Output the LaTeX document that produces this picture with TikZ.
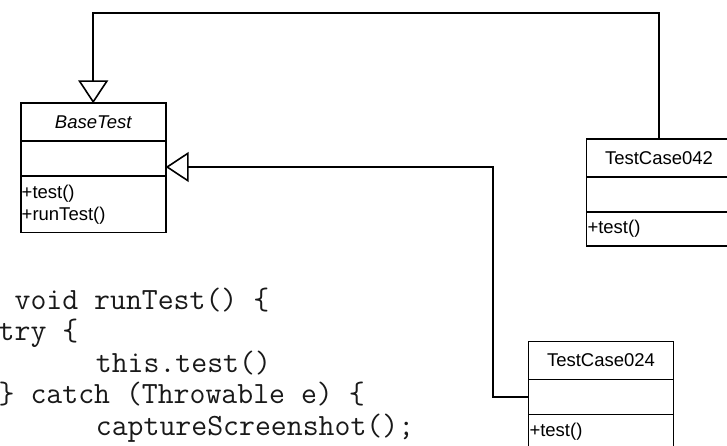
\documentclass[tikz,border=0pt]{standalone}
\usepackage{fontspec}
\newfontfamily\umlfont{Liberation Sans}
\usepackage{tikz}
\usetikzlibrary{arrows.meta,positioning}
\tikzset{
	classname/.style={
		draw, rectangle, minimum width=145pt, minimum height=38pt,
		inner sep=0pt, outer sep=0pt, line width=1.6pt, text=black,
		font=\umlfont\fontsize{18.5}{22}\selectfont
	},
	classattr/.style={classname, minimum height=35pt},
	classops/.style={
		classname, minimum height=34pt,
		align=left, text width=143pt, inner xsep=1pt
	},
	codeline/.style={
		anchor=base west, inner sep=0pt, text=black!90,
		font=\ttfamily\fontsize{30.9}{31}\selectfont
	},
	inherit_arrow/.style={-{Triangle[open,length=23pt,width=30pt]}, line width=1.6pt}
}

\begin{document}
\begin{tikzpicture}[x=1pt, y=-1pt]
				\useasboundingbox (0,0) rectangle (727,446);
				\clip (0,0) rectangle (727,446);
				\node[classname] (basename) at (93.2,122.3) {\itshape BaseTest};
				\node[classattr] (baseattr) [below=0pt of basename] {};
				\node[classops, minimum height=56pt] (baseops) [below=0pt of baseattr] {+test()\\+runTest()};
				\node[classname] (tcfourtwoname) at (659,158) {TestCase042};
				\node[classattr] (tcfourtwoattr) [below=0pt of tcfourtwoname] {};
				\node[classops] (tcfourtwoops) [below=0pt of tcfourtwoattr] {+test()};
				\node[classname] (tctwofourname) at (601,360.5) {TestCase024};
				\node[classattr] (tctwofourattr) [below=0pt of tctwofourname] {};
				\node[classops] (tctwofourops) [below=0pt of tctwofourattr] {+test()};
				\node[codeline] (codeA) at (-1.5,309) {\ void runTest() \{};
				\node[codeline] (codeB) at (-1.5,340.5) {try \{};
				\node[codeline] (codeC) at (95.7,372) {this.test()};
				\node[codeline] (codeD) at (-1.5,403.5) {\} catch (Throwable e) \{};
				\node[codeline] (codeE) at (95.7,435) {captureScreenshot();};
				\coordinate (joint) at (493,167);
				\draw[inherit_arrow] (tcfourtwoname.north) -- ++(0,-126) -| (basename.north);
				\draw[inherit_arrow] (tctwofourattr.west) -| (joint) -- (joint -| baseattr.east);
			\end{tikzpicture}
\end{document}
